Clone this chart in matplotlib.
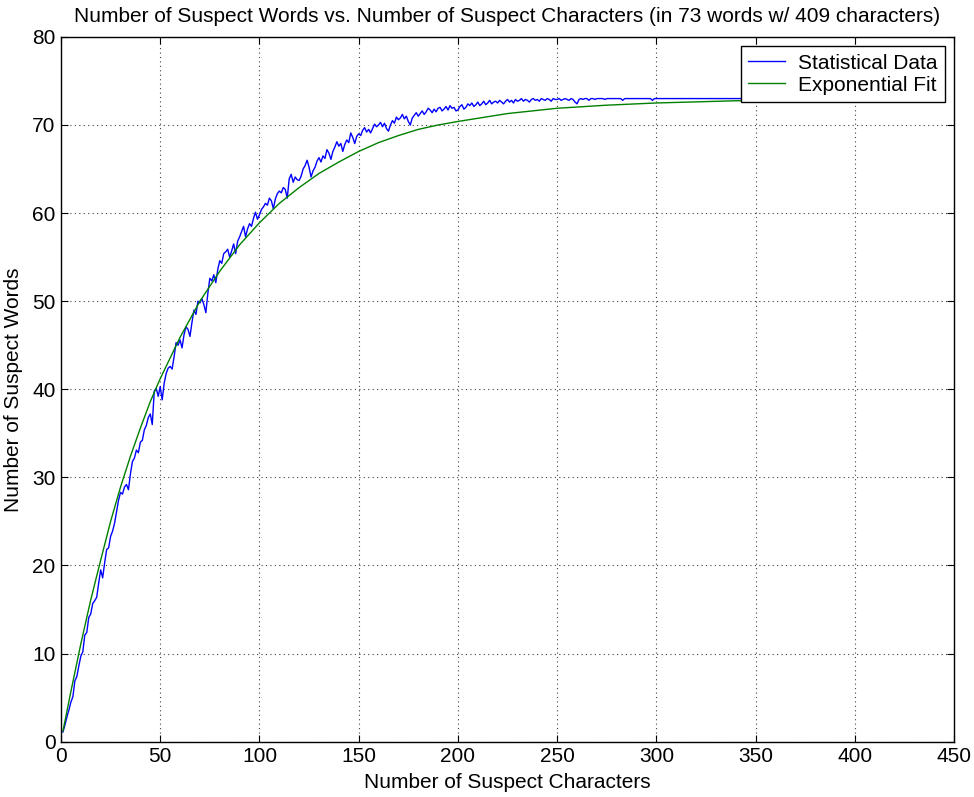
import matplotlib
matplotlib.use("Agg")
import matplotlib.pyplot as plt

# Statistical data: number of suspect words for each count of suspect characters
chars_stat = list(range(1, 301)) + [320, 350, 380, 409]
words_stat = [
    1.1, 1.9, 2.8, 3.6, 4.5, 5.1, 6.9, 7.4, 8.6, 9.7,
    10.2, 12.1, 12.4, 14.1, 14.5, 15.7, 16.0, 16.4, 18.0, 19.5,
    18.6, 20.3, 21.8, 22.0, 23.3, 23.9, 24.8, 26.1, 27.4, 28.3,
    28.1, 28.9, 29.2, 28.6, 30.4, 31.8, 32.2, 33.1, 32.8, 34.0,
    34.2, 35.4, 35.9, 36.8, 37.2, 36.0, 39.8, 40.1, 39.2, 40.3,
    38.8, 40.7, 41.8, 42.4, 42.6, 42.3, 43.7, 45.3, 45.0, 45.6,
    44.7, 46.2, 47.1, 46.8, 46.0, 47.6, 49.0, 48.5, 50.0, 49.8,
    50.3, 49.6, 48.7, 50.9, 52.6, 52.3, 53.0, 52.1, 53.6, 54.6,
    54.3, 55.4, 55.6, 55.9, 55.0, 55.7, 56.5, 55.4, 56.8, 57.3,
    57.9, 58.5, 57.3, 58.2, 58.8, 58.5, 59.4, 60.1, 59.3, 59.8,
    60.4, 60.7, 61.1, 60.9, 61.7, 61.4, 60.5, 61.6, 62.2, 62.5,
    62.3, 62.9, 62.7, 61.7, 63.9, 64.4, 63.5, 64.1, 63.8, 63.7,
    64.2, 65.0, 65.4, 66.0, 65.2, 64.1, 64.8, 65.2, 65.9, 66.3,
    65.8, 66.5, 66.2, 67.2, 66.8, 66.1, 67.0, 67.5, 68.1, 67.6,
    67.9, 67.0, 67.8, 68.3, 68.0, 69.1, 68.6, 67.9, 68.7, 69.0,
    68.8, 69.4, 69.7, 69.2, 69.5, 69.1, 69.6, 70.1, 69.8, 70.0,
    70.3, 69.8, 70.2, 69.6, 69.3, 70.0, 70.5, 70.2, 70.9, 70.6,
    70.8, 71.2, 70.7, 71.0, 70.4, 70.0, 70.8, 71.1, 71.4, 71.0,
    71.3, 71.6, 71.2, 71.5, 71.9, 71.7, 71.4, 71.8, 71.5, 71.9,
    72.0, 71.6, 71.8, 72.1, 71.7, 72.2, 71.9, 72.0, 71.6, 71.7,
    72.1, 72.3, 71.8, 72.0, 72.4, 72.2, 72.5, 72.1, 72.3, 72.6,
    72.2, 72.4, 72.7, 72.3, 72.5, 72.8, 72.4, 72.6, 72.7, 72.5,
    72.8, 72.6, 72.4, 72.7, 72.9, 72.6, 72.8, 72.5, 72.9, 72.7,
    72.8, 73.0, 72.7, 72.9, 72.8, 72.6, 72.9, 73.0, 72.8, 72.9,
    72.7, 73.0, 72.9, 72.8, 73.0, 72.9, 72.7, 73.0, 72.9, 72.9,
    73.0, 72.8, 72.9, 73.0, 72.9, 72.8, 73.0, 72.9, 72.6, 72.4,
    72.9, 73.0, 72.9, 73.0, 73.0, 72.8, 73.0, 73.0, 72.9, 73.0,
    73.0, 73.0, 73.0, 72.9, 73.0, 73.0, 73.0, 73.0, 73.0, 73.0,
    73.0, 73.0, 72.8, 73.0, 73.0, 73.0, 73.0, 73.0, 73.0, 73.0,
    73.0, 73.0, 73.0, 73.0, 73.0, 73.0, 73.0, 72.8, 73.0, 73.0,
    73.0, 73.0, 73.0, 73.0,
]

# Exponential fit
chars_fit = [1, 5, 10, 15, 20, 25, 30, 35, 40, 45, 50, 60, 70, 80, 90, 100,
             110, 120, 130, 140, 150, 160, 170, 180, 190, 200, 225, 250, 275,
             300, 340, 409]
words_fit = [1.2, 5.7, 11.1, 16.1, 20.6, 25.0, 28.9, 32.4, 35.6, 38.6, 41.2,
             45.9, 50.0, 53.4, 56.4, 58.9, 61.1, 62.9, 64.5, 65.8, 67.0, 68.0,
             68.8, 69.5, 70.0, 70.4, 71.3, 71.9, 72.25, 72.5, 72.75, 72.95]

xticks = [0, 50, 100, 150, 200, 250, 300, 350, 400, 450]
yticks = [0, 10, 20, 30, 40, 50, 60, 70, 80]

plt.rcParams['font.family'] = ['Liberation Sans', 'DejaVu Sans']

fig = plt.figure(figsize=(9.74, 7.97), dpi=100)
ax = fig.add_axes([0.0626, 0.0694, 0.917, 0.8843])

ax.plot(chars_stat, words_stat, color='#0000ff', lw=1.0, label='Statistical Data')
ax.plot(chars_fit, words_fit, color='#008000', lw=1.0, label='Exponential Fit')

ax.set_xlim(0, 450)
ax.set_ylim(0, 80)
ax.set_xticks(xticks)
ax.set_yticks(yticks)
ax.tick_params(direction='in', top=True, right=True, length=5, labelsize=15, pad=4)
ax.grid(True, color='#404040', linestyle=(0, (1, 3)), linewidth=0.8)
for s in ax.spines.values():
    s.set_linewidth(1.0)

ax.set_xlabel('Number of Suspect Characters', fontsize=15, labelpad=5)
ax.set_ylabel('Number of Suspect Words', fontsize=15, labelpad=6.5)
ax.set_title('Number of Suspect Words vs. Number of Suspect Characters '
             '(in 73 words w/ 409 characters)', fontsize=15, pad=11)

leg = ax.legend(loc='upper right', fontsize=15, fancybox=False, framealpha=1,
                edgecolor='black', borderaxespad=0.45, handlelength=1.8,
                handletextpad=0.6, borderpad=0.35, labelspacing=0.15)
leg.get_frame().set_linewidth(1.0)

fig.savefig('out.png', dpi=100, facecolor='white')
plt.close(fig)
